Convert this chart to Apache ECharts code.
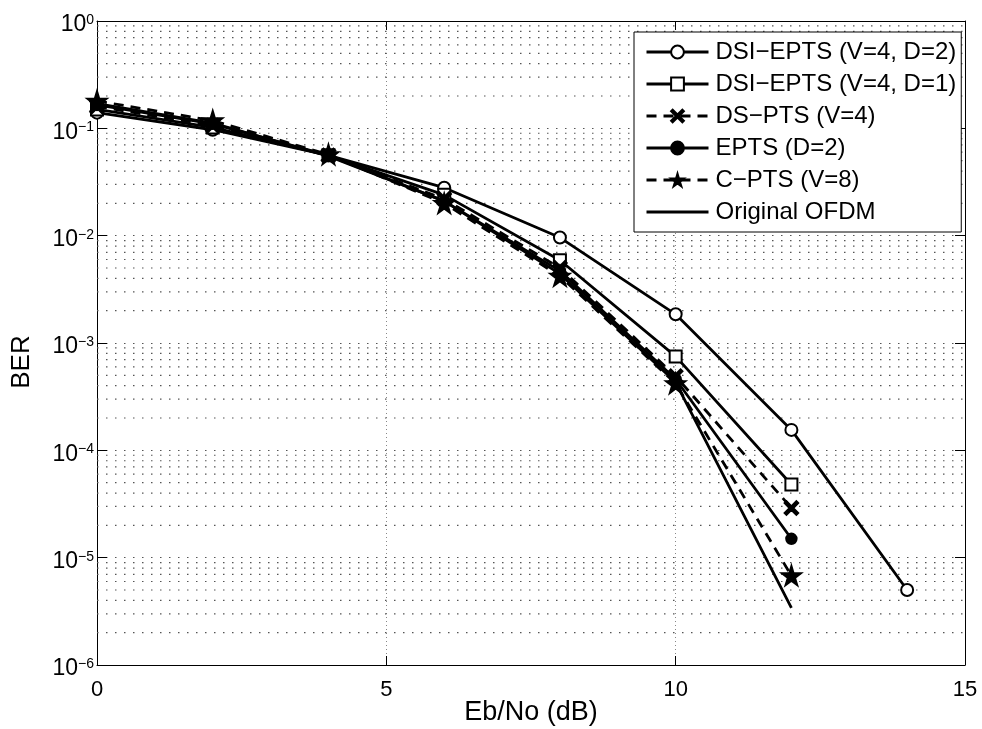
<!DOCTYPE html>
<html>
<head>
<meta charset="utf-8">
<script src="https://cdn.jsdelivr.net/npm/echarts@6/dist/echarts.min.js"></script>
<style>
html,body{margin:0;padding:0;background:#fff;}
#chart{width:982px;height:729px;}
</style>
</head>
<body>
<div id="chart"></div>
<script>
// ---- data ----
var ebno = [0, 2, 4, 6, 8, 10, 12, 14];
var berDsiD2 = [0.140, 0.097, 0.056, 0.028, 0.0096, 0.00185, 1.55e-4, 5.0e-6];
var berDsiD1 = [0.150, 0.102, 0.056, 0.024, 0.0059, 7.5e-4, 4.8e-5];
var berDsPts = [0.160, 0.106, 0.056, 0.022, 0.0050, 4.9e-4, 2.9e-5];
var berEpts  = [0.165, 0.110, 0.056, 0.021, 0.0047, 4.6e-4, 1.5e-5];
var berCPts  = [0.180, 0.118, 0.057, 0.020, 0.0042, 4.2e-4, 6.8e-6];
var berOrig  = [0.170, 0.112, 0.055, 0.021, 0.0044, 4.3e-4, 3.4e-6];
var seriesNames = ['DSI\u2212EPTS (V=4, D=2)', 'DSI\u2212EPTS (V=4, D=1)', 'DS\u2212PTS (V=4)', 'EPTS (D=2)', 'C\u2212PTS (V=8)', 'Original OFDM'];
var xTicks = [0, 5, 10, 15];
var yDecades = [1e-6, 1e-5, 1e-4, 1e-3, 1e-2, 1e-1, 1];
var minorMantissas = [2, 3, 4, 5, 6, 7, 8, 9];

function zip(xs, ys) { return ys.map(function (y, i) { return [xs[i], y]; }); }

var FONT = 'Liberation Sans, Arial, sans-serif';
var starPath = 'path://M50,0 L61,35 L98,35 L68,57 L79,91 L50,70 L21,91 L32,57 L2,35 L39,35 Z';
var xPath = 'path://M0,12 L12,0 L50,38 L88,0 L100,12 L62,50 L100,88 L88,100 L50,62 L12,100 L0,88 L38,50 Z';

var minorVals = [];
for (var k = 0; k < yDecades.length - 1; k++) {
  minorMantissas.forEach(function (m) { minorVals.push(m * yDecades[k]); });
}

function mkSeries(name, data, symbol, size, dashed) {
  return {
    name: name, type: 'line', data: zip(ebno, data),
    symbol: symbol, symbolSize: size, showSymbol: symbol !== 'none',
    lineStyle: { color: '#000', width: 2.8, type: dashed ? [10, 7] : 'solid' },
    itemStyle: { color: '#000', borderColor: '#000', borderWidth: 2.4 },
    emphasis: { disabled: true }, animation: false, z: 5
  };
}

var series = [
  mkSeries(seriesNames[0], berDsiD2, 'emptyCircle', 12, false),
  mkSeries(seriesNames[1], berDsiD1, 'emptyRect', 12, false),
  mkSeries(seriesNames[2], berDsPts, xPath, 13, true),
  mkSeries(seriesNames[3], berEpts, 'circle', 10, false),
  mkSeries(seriesNames[4], berCPts, starPath, 18, true),
  mkSeries(seriesNames[5], berOrig, 'none', 0, false)
];
// minor log grid lines (horizontal), drawn through the axes
minorVals.forEach(function (v, i) {
  series.push({
    name: 'minor' + i, type: 'line', data: [[0, v], [15, v]],
    symbol: 'none', showSymbol: false, silent: true, animation: false, z: 1,
    lineStyle: { color: '#555', width: 1.2, type: [1.5, 7.5] },
    emphasis: { disabled: true }, tooltip: { show: false }
  });
});

var legendData = seriesNames.map(function (n, i) {
  return i === 5 ? { name: n, itemStyle: { opacity: 0 } } : { name: n };
});

var chart = echarts.init(document.getElementById('chart'), null, { renderer: 'canvas' });
chart.setOption({
  backgroundColor: '#fff',
  animation: false,
  textStyle: { fontFamily: FONT },
  grid: { left: 97, top: 21, right: 17, bottom: 64, containLabel: false, outerBoundsMode: 'none' },
  legend: {
    orient: 'vertical', left: 634, top: 32,
    backgroundColor: '#fff', borderColor: '#000', borderWidth: 1, borderRadius: 0,
    padding: [8, 5, 8, 11], itemGap: 8, itemWidth: 62, itemHeight: 16,
    selectedMode: false,
    lineStyle: { width: 3 },
    data: legendData,
    textStyle: { fontFamily: FONT, fontSize: 24, color: '#000', padding: [0, 0, 0, 2] }
  },
  xAxis: [{
    type: 'value', min: 0, max: 15, interval: 5,
    name: 'Eb/No (dB)', nameLocation: 'middle', nameGap: 34, nameMoveOverlap: false,
    nameTextStyle: { fontFamily: FONT, fontSize: 27, color: '#000' },
    axisLine: { show: true, onZero: false, lineStyle: { color: '#000', width: 1 } },
    axisTick: { inside: true, length: 9, lineStyle: { color: '#000' } },
    axisLabel: { fontFamily: FONT, fontSize: 22, color: '#000', margin: 14,
      formatter: function (v) { return xTicks.indexOf(v) >= 0 ? String(v) : ''; } },
    splitLine: { show: true, lineStyle: { color: '#888', width: 1, type: [1, 3] } }
  }, {
    type: 'value', min: 0, max: 15, interval: 5, position: 'top',
    axisLine: { show: true, onZero: false, lineStyle: { color: '#000', width: 1 } },
    axisTick: { inside: true, length: 9, lineStyle: { color: '#000' } },
    axisLabel: { show: false }, splitLine: { show: false }
  }],
  yAxis: [{
    type: 'log', min: 1e-6, max: 1, logBase: 10,
    name: 'BER', nameLocation: 'middle', nameGap: 62, nameRotate: 90, nameMoveOverlap: false,
    nameTextStyle: { fontFamily: FONT, fontSize: 26, color: '#000', padding: [0, 38, 0, 0] },
    axisLine: { show: true, onZero: false, lineStyle: { color: '#000', width: 1 } },
    axisTick: { inside: true, length: 10, lineStyle: { color: '#000' } },
    axisLabel: {
      margin: 3, color: '#000', padding: [8, 0, 0, 0],
      formatter: function (v) {
        var e = Math.round(Math.log10(v));
        return '{b|10}{s|' + (e < 0 ? '\u2212' + (-e) : e) + '}';
      },
      rich: {
        b: { fontFamily: FONT, fontSize: 23, color: '#000' },
        s: { fontFamily: FONT, fontSize: 14, color: '#000', verticalAlign: 'top', padding: [0, 0, 10, 0] }
      }
    },
    splitLine: { show: true, lineStyle: { color: '#555', width: 1.2, type: [1.5, 7.5] } }
  }, {
    type: 'log', min: 1e-6, max: 1, logBase: 10, position: 'right',
    axisLine: { show: true, onZero: false, lineStyle: { color: '#000', width: 1 } },
    axisTick: { inside: true, length: 10, lineStyle: { color: '#000' } },
    axisLabel: { show: false }, splitLine: { show: false }
  }],
  series: series
});
</script>
</body>
</html>
